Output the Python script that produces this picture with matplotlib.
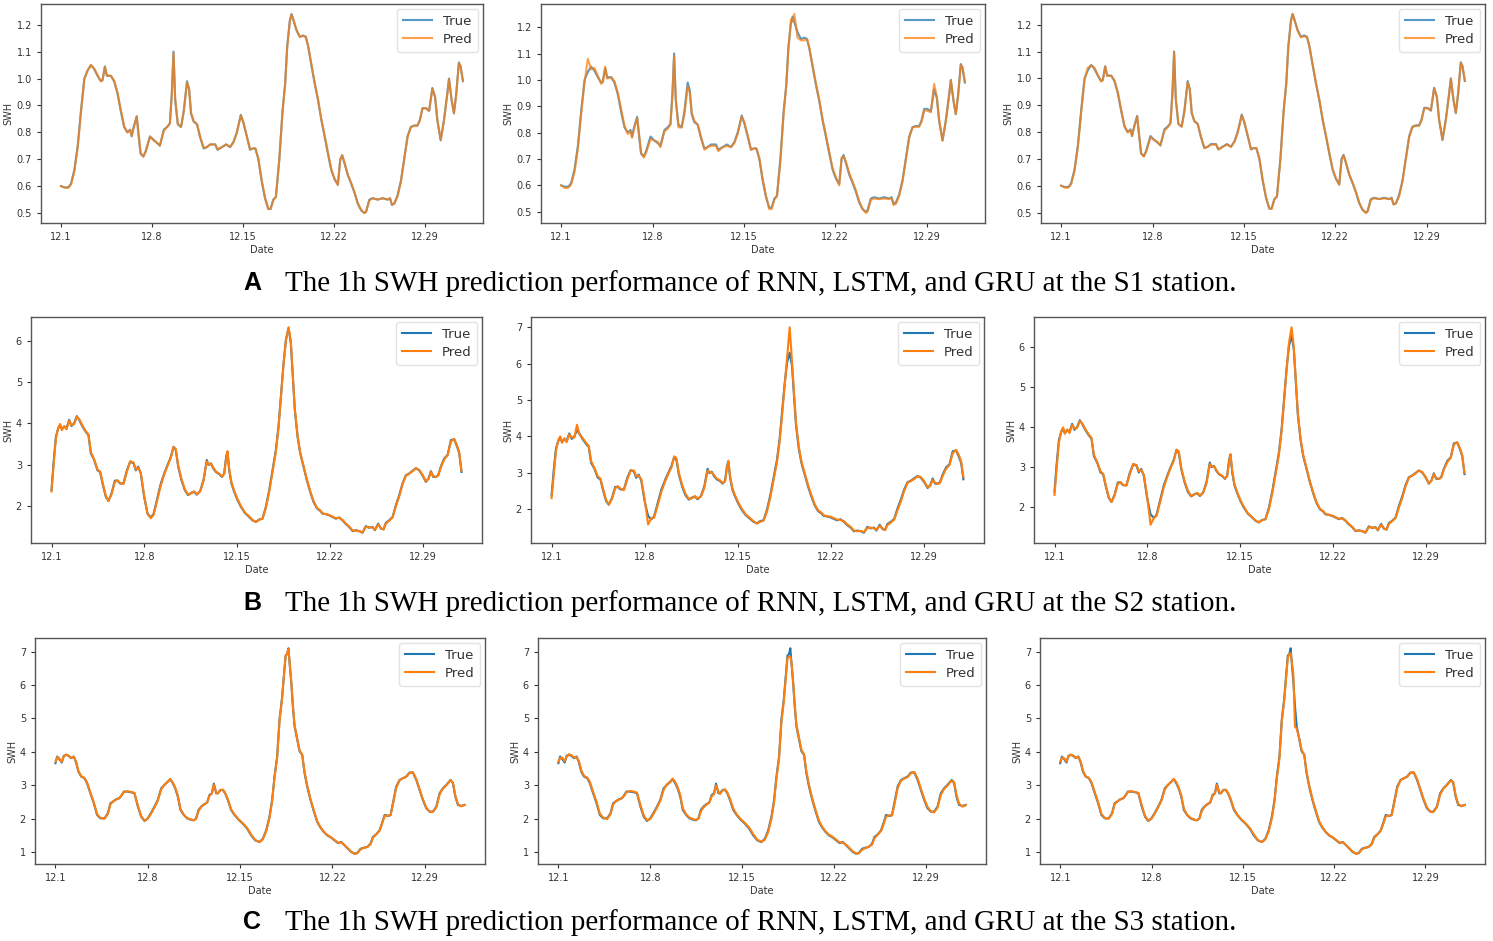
import matplotlib
matplotlib.use("Agg")
import matplotlib.pyplot as plt

# ---------------- data (x in days since 12.1, hourly series) ----------------
tick_pos = [0, 7, 14, 21, 28]
tick_labels = ["12.1", "12.8", "12.15", "12.22", "12.29"]
models = ["RNN", "LSTM", "GRU"]
stations = ["S1", "S2", "S3"]
panel_letters = ["A", "B", "C"]

s1_days = [0.00, 0.26, 0.51, 0.64, 0.77, 1.02, 1.28, 1.53, 1.79, 2.04, 2.30, 2.55, 2.81, 3.06, 3.19, 3.37, 3.52,
           3.83, 4.08, 4.34, 4.59, 4.85, 5.10, 5.31, 5.43, 5.56, 5.82, 5.94, 6.12, 6.33, 6.51, 6.84, 7.14, 7.40,
           7.60, 7.91, 8.16, 8.37, 8.52, 8.65, 8.78, 8.98, 9.23, 9.44, 9.69, 9.85, 10.00, 10.20, 10.46, 10.71,
           10.97, 11.22, 11.48, 11.86, 12.04, 12.37, 12.70, 13.01, 13.27, 13.52, 13.83, 14.03, 14.29, 14.54,
           14.74, 14.95, 15.18, 15.43, 15.69, 15.94, 16.12, 16.33, 16.53, 16.79, 17.04, 17.24, 17.40, 17.60,
           17.73, 17.86, 18.11, 18.37, 18.62, 18.83, 19.01, 19.26, 19.52, 19.77, 20.03, 20.28, 20.54, 20.79,
           21.05, 21.30, 21.48, 21.63, 21.81, 22.07, 22.32, 22.58, 22.83, 23.09, 23.34, 23.47, 23.72, 23.98,
           24.36, 24.74, 25.13, 25.31, 25.46, 25.64, 25.89, 26.15, 26.40, 26.66, 26.91, 27.17, 27.42, 27.60,
           27.81, 28.06, 28.32, 28.57, 28.78, 28.95, 29.21, 29.46, 29.72, 29.85, 30.05, 30.23, 30.41, 30.61,
           30.74, 30.92]
s1_true = [0.600, 0.595, 0.595, 0.600, 0.610, 0.660, 0.750, 0.880, 1.000, 1.030, 1.050, 1.035, 1.010, 0.990, 0.995,
           1.045, 1.010, 1.010, 0.990, 0.945, 0.880, 0.820, 0.800, 0.810, 0.785, 0.815, 0.860, 0.800, 0.720, 0.710,
           0.730, 0.785, 0.770, 0.760, 0.750, 0.810, 0.820, 0.833, 0.945, 1.100, 0.920, 0.830, 0.820, 0.880, 0.990,
           0.960, 0.870, 0.840, 0.830, 0.780, 0.740, 0.745, 0.755, 0.755, 0.735, 0.745, 0.755, 0.745, 0.765, 0.800,
           0.865, 0.835, 0.785, 0.735, 0.740, 0.740, 0.700, 0.620, 0.555, 0.515, 0.515, 0.550, 0.560, 0.700, 0.880,
           0.980, 1.120, 1.215, 1.240, 1.220, 1.180, 1.155, 1.160, 1.155, 1.120, 1.050, 0.980, 0.920, 0.845, 0.785,
           0.720, 0.660, 0.625, 0.605, 0.700, 0.715, 0.685, 0.640, 0.610, 0.575, 0.535, 0.510, 0.500, 0.505, 0.550,
           0.555, 0.550, 0.555, 0.550, 0.555, 0.530, 0.535, 0.565, 0.620, 0.700, 0.785, 0.820, 0.825, 0.825, 0.845,
           0.890, 0.890, 0.880, 0.965, 0.930, 0.845, 0.770, 0.845, 0.945, 1.000, 0.920, 0.870, 0.945, 1.060, 1.045,
           0.990]
s1_rnn_pred = [0.600, 0.595, 0.593, 0.598, 0.608, 0.655, 0.745, 0.875, 0.998, 1.030, 1.050, 1.037, 1.012, 0.990,
               0.993, 1.043, 1.012, 1.010, 0.992, 0.948, 0.885, 0.823, 0.800, 0.808, 0.787, 0.812, 0.858, 0.803,
               0.723, 0.710, 0.728, 0.783, 0.772, 0.760, 0.752, 0.806, 0.820, 0.832, 0.940, 1.095, 0.925, 0.832,
               0.820, 0.876, 0.985, 0.962, 0.873, 0.842, 0.830, 0.782, 0.742, 0.745, 0.755, 0.755, 0.737, 0.745,
               0.755, 0.746, 0.763, 0.797, 0.862, 0.838, 0.787, 0.737, 0.740, 0.740, 0.703, 0.624, 0.558, 0.517,
               0.515, 0.548, 0.560, 0.695, 0.875, 0.978, 1.115, 1.212, 1.238, 1.222, 1.182, 1.155, 1.158, 1.155,
               1.122, 1.053, 0.983, 0.923, 0.848, 0.788, 0.723, 0.663, 0.627, 0.605, 0.697, 0.715, 0.687, 0.642,
               0.612, 0.577, 0.537, 0.512, 0.500, 0.505, 0.547, 0.555, 0.550, 0.555, 0.550, 0.555, 0.532, 0.535,
               0.562, 0.617, 0.697, 0.782, 0.818, 0.825, 0.825, 0.843, 0.888, 0.890, 0.880, 0.962, 0.932, 0.848,
               0.772, 0.842, 0.942, 0.998, 0.922, 0.872, 0.942, 1.057, 1.047, 0.992]
s1_lstm_pred = [0.600, 0.590, 0.590, 0.595, 0.605, 0.650, 0.740, 0.870, 0.990, 1.080, 1.040, 1.045, 1.015, 0.985,
                0.990, 1.050, 1.005, 1.010, 0.995, 0.950, 0.890, 0.825, 0.795, 0.805, 0.780, 0.810, 0.855, 0.805,
                0.725, 0.705, 0.725, 0.775, 0.770, 0.765, 0.745, 0.805, 0.815, 0.830, 0.940, 1.090, 0.930, 0.820,
                0.820, 0.870, 0.975, 0.950, 0.875, 0.845, 0.830, 0.785, 0.735, 0.745, 0.750, 0.750, 0.730, 0.745,
                0.750, 0.745, 0.760, 0.795, 0.860, 0.840, 0.790, 0.735, 0.740, 0.740, 0.705, 0.625, 0.560, 0.510,
                0.510, 0.545, 0.560, 0.690, 0.870, 0.975, 1.110, 1.230, 1.220, 1.250, 1.160, 1.150, 1.150, 1.155,
                1.120, 1.055, 0.985, 0.925, 0.850, 0.790, 0.725, 0.665, 0.630, 0.600, 0.705, 0.710, 0.690, 0.645,
                0.615, 0.580, 0.540, 0.510, 0.495, 0.500, 0.545, 0.550, 0.548, 0.550, 0.548, 0.552, 0.525, 0.530,
                0.560, 0.615, 0.695, 0.780, 0.820, 0.822, 0.822, 0.840, 0.885, 0.882, 0.878, 0.985, 0.935, 0.850,
                0.770, 0.840, 0.940, 0.998, 0.925, 0.870, 0.940, 1.055, 1.050, 0.995]
s1_gru_pred = [0.600, 0.593, 0.592, 0.597, 0.607, 0.655, 0.745, 0.872, 0.995, 1.040, 1.048, 1.040, 1.012, 0.988,
               0.992, 1.045, 1.010, 1.010, 0.993, 0.948, 0.884, 0.823, 0.798, 0.807, 0.785, 0.812, 0.858, 0.803,
               0.723, 0.708, 0.727, 0.780, 0.770, 0.762, 0.750, 0.805, 0.818, 0.832, 0.940, 1.098, 0.925, 0.830,
               0.820, 0.875, 0.985, 0.960, 0.873, 0.842, 0.830, 0.782, 0.740, 0.745, 0.753, 0.753, 0.735, 0.745,
               0.753, 0.745, 0.763, 0.797, 0.862, 0.838, 0.787, 0.737, 0.740, 0.740, 0.703, 0.624, 0.558, 0.515,
               0.513, 0.548, 0.560, 0.695, 0.875, 0.978, 1.115, 1.212, 1.240, 1.220, 1.178, 1.153, 1.157, 1.153,
               1.122, 1.053, 0.983, 0.923, 0.848, 0.788, 0.723, 0.663, 0.627, 0.603, 0.697, 0.713, 0.687, 0.642,
               0.612, 0.577, 0.537, 0.510, 0.498, 0.503, 0.547, 0.553, 0.550, 0.553, 0.550, 0.553, 0.530, 0.533,
               0.562, 0.617, 0.697, 0.782, 0.818, 0.823, 0.823, 0.843, 0.888, 0.888, 0.880, 0.962, 0.932, 0.848,
               0.772, 0.842, 0.942, 0.998, 0.922, 0.872, 0.942, 1.057, 1.047, 0.992]

s2_days = [0.00, 0.15, 0.33, 0.50, 0.65, 0.78, 0.96, 1.13, 1.33, 1.51, 1.71, 1.91, 2.09, 2.34, 2.59, 2.79, 2.97,
           3.22, 3.47, 3.67, 3.85, 4.10, 4.30, 4.53, 4.78, 4.98, 5.18, 5.43, 5.69, 5.94, 6.19, 6.36, 6.54, 6.74,
           6.99, 7.25, 7.50, 7.70, 7.95, 8.25, 8.55, 8.81, 9.01, 9.21, 9.38, 9.56, 9.81, 10.06, 10.31, 10.57,
           10.77, 10.97, 11.22, 11.47, 11.72, 11.85, 12.03, 12.20, 12.40, 12.65, 12.86, 13.03, 13.18, 13.28,
           13.41, 13.58, 13.79, 14.04, 14.29, 14.59, 14.92, 15.17, 15.42, 15.67, 15.92, 16.18, 16.43, 16.68,
           16.93, 17.13, 17.31, 17.51, 17.69, 17.89, 18.06, 18.21, 18.36, 18.57, 18.77, 19.02, 19.27, 19.52,
           19.77, 20.03, 20.28, 20.45, 20.70, 20.96, 21.21, 21.46, 21.71, 21.96, 22.21, 22.47, 22.72, 22.97,
           23.22, 23.47, 23.72, 23.97, 24.23, 24.40, 24.65, 24.86, 25.06, 25.23, 25.48, 25.74, 25.99, 26.24,
           26.49, 26.74, 26.99, 27.25, 27.50, 27.75, 28.00, 28.25, 28.45, 28.63, 28.81, 29.01, 29.18, 29.38,
           29.64, 29.89, 30.14, 30.39, 30.59, 30.77, 30.94]
s2_true = [2.38, 3.03, 3.67, 3.87, 3.96, 3.85, 3.92, 3.87, 4.08, 3.93, 4.00, 4.17, 4.08, 3.92, 3.79, 3.71, 3.27,
           3.11, 2.86, 2.82, 2.54, 2.22, 2.12, 2.30, 2.61, 2.61, 2.54, 2.54, 2.86, 3.07, 3.03, 2.86, 2.95, 2.78,
           2.22, 1.81, 1.72, 1.80, 2.14, 2.54, 2.82, 3.03, 3.19, 3.43, 3.35, 2.95, 2.62, 2.38, 2.26, 2.32, 2.34,
           2.27, 2.36, 2.62, 3.11, 2.99, 3.03, 2.91, 2.82, 2.77, 2.70, 2.78, 3.19, 3.31, 2.86, 2.54, 2.34, 2.14,
           1.98, 1.83, 1.73, 1.65, 1.61, 1.67, 1.69, 1.98, 2.38, 2.86, 3.35, 3.92, 4.64, 5.45, 6.02, 6.30, 5.94,
           5.13, 4.32, 3.67, 3.27, 2.95, 2.62, 2.34, 2.10, 1.94, 1.88, 1.81, 1.80, 1.77, 1.73, 1.69, 1.72, 1.65,
           1.56, 1.49, 1.39, 1.41, 1.39, 1.35, 1.51, 1.47, 1.49, 1.41, 1.57, 1.45, 1.43, 1.59, 1.65, 1.73, 2.02,
           2.26, 2.54, 2.74, 2.78, 2.85, 2.91, 2.86, 2.74, 2.58, 2.66, 2.84, 2.70, 2.70, 2.74, 2.95, 3.15, 3.23,
           3.59, 3.61, 3.45, 3.27, 2.82]
s2_rnn_pred = [2.35, 2.95, 3.62, 3.88, 3.98, 3.83, 3.93, 3.85, 4.06, 3.95, 3.98, 4.15, 4.10, 3.94, 3.80, 3.73,
               3.30, 3.12, 2.88, 2.83, 2.57, 2.24, 2.12, 2.28, 2.58, 2.62, 2.55, 2.53, 2.83, 3.08, 3.05, 2.88, 2.93,
               2.80, 2.25, 1.80, 1.70, 1.78, 2.10, 2.50, 2.80, 3.01, 3.17, 3.42, 3.38, 2.98, 2.65, 2.40, 2.27, 2.31,
               2.35, 2.28, 2.35, 2.60, 3.08, 3.01, 3.02, 2.93, 2.83, 2.78, 2.71, 2.77, 3.15, 3.32, 2.90, 2.57, 2.36,
               2.16, 2.00, 1.84, 1.74, 1.66, 1.61, 1.66, 1.69, 1.95, 2.34, 2.82, 3.30, 3.88, 4.60, 5.42, 6.00, 6.32,
               5.98, 5.18, 4.36, 3.70, 3.29, 2.97, 2.64, 2.36, 2.12, 1.95, 1.89, 1.82, 1.80, 1.78, 1.74, 1.70, 1.71,
               1.66, 1.57, 1.50, 1.40, 1.40, 1.39, 1.36, 1.49, 1.48, 1.48, 1.42, 1.55, 1.46, 1.43, 1.57, 1.64, 1.72,
               1.99, 2.23, 2.52, 2.73, 2.78, 2.84, 2.91, 2.87, 2.75, 2.59, 2.65, 2.82, 2.72, 2.70, 2.73, 2.93, 3.13,
               3.22, 3.56, 3.62, 3.47, 3.29, 2.85]
s2_lstm_pred = [2.30, 2.90, 3.60, 3.90, 4.00, 3.82, 3.95, 3.84, 4.05, 3.97, 3.97, 4.32, 4.05, 3.95, 3.82, 3.74,
                3.32, 3.13, 2.90, 2.84, 2.58, 2.25, 2.13, 2.27, 2.57, 2.63, 2.56, 2.52, 2.82, 3.06, 3.06, 2.90, 2.92,
                2.82, 2.28, 1.58, 1.75, 1.76, 2.08, 2.48, 2.78, 3.00, 3.15, 3.45, 3.40, 3.00, 2.66, 2.42, 2.28, 2.30,
                2.36, 2.29, 2.34, 2.58, 3.06, 3.02, 3.01, 2.94, 2.84, 2.79, 2.72, 2.76, 3.13, 3.33, 2.92, 2.58, 2.37,
                2.17, 2.01, 1.85, 1.75, 1.67, 1.60, 1.65, 1.68, 1.93, 2.32, 2.80, 3.28, 3.85, 4.55, 5.40, 6.20, 7.00,
                6.05, 5.20, 4.40, 3.72, 3.31, 2.98, 2.66, 2.38, 2.13, 1.96, 1.90, 1.83, 1.80, 1.79, 1.75, 1.71, 1.70,
                1.67, 1.58, 1.51, 1.41, 1.39, 1.40, 1.37, 1.48, 1.49, 1.47, 1.43, 1.54, 1.47, 1.42, 1.56, 1.63, 1.71,
                1.97, 2.21, 2.50, 2.72, 2.77, 2.83, 2.90, 2.88, 2.76, 2.60, 2.64, 2.80, 2.73, 2.69, 2.72, 2.91, 3.11,
                3.21, 3.54, 3.63, 3.49, 3.31, 2.88]
s2_gru_pred = [2.30, 2.92, 3.60, 3.89, 3.99, 3.83, 3.94, 3.85, 4.05, 3.96, 3.98, 4.15, 4.09, 3.94, 3.81, 3.73,
               3.31, 3.12, 2.89, 2.83, 2.57, 2.24, 2.12, 2.28, 2.58, 2.62, 2.55, 2.53, 2.83, 3.07, 3.05, 2.89, 2.93,
               2.81, 2.26, 1.55, 1.72, 1.77, 2.09, 2.49, 2.79, 3.01, 3.16, 3.43, 3.39, 2.99, 2.65, 2.41, 2.27, 2.31,
               2.35, 2.28, 2.35, 2.59, 3.07, 3.01, 3.02, 2.93, 2.83, 2.78, 2.71, 2.77, 3.14, 3.32, 2.91, 2.57, 2.36,
               2.16, 2.00, 1.84, 1.74, 1.66, 1.61, 1.66, 1.69, 1.94, 2.33, 2.81, 3.29, 3.87, 4.58, 5.42, 6.10, 6.50,
               6.00, 5.18, 4.37, 3.70, 3.30, 2.97, 2.64, 2.36, 2.12, 1.95, 1.89, 1.82, 1.80, 1.78, 1.74, 1.70, 1.71,
               1.66, 1.57, 1.50, 1.40, 1.40, 1.39, 1.36, 1.49, 1.48, 1.48, 1.42, 1.55, 1.46, 1.43, 1.57, 1.64, 1.72,
               1.98, 2.22, 2.51, 2.73, 2.78, 2.84, 2.91, 2.87, 2.75, 2.59, 2.65, 2.82, 2.72, 2.70, 2.73, 2.93, 3.12,
               3.22, 3.56, 3.62, 3.47, 3.29, 2.85]

s3_days = [0.00, 0.13, 0.30, 0.48, 0.63, 0.81, 0.99, 1.19, 1.39, 1.57, 1.74, 1.95, 2.20, 2.40, 2.65, 2.91, 3.16,
           3.41, 3.72, 3.97, 4.17, 4.37, 4.60, 4.85, 5.03, 5.18, 5.44, 5.74, 5.99, 6.25, 6.50, 6.75, 7.00, 7.26,
           7.51, 7.76, 8.02, 8.27, 8.52, 8.70, 8.90, 9.08, 9.28, 9.48, 9.73, 9.99, 10.24, 10.49, 10.67, 10.85,
           11.05, 11.30, 11.50, 11.68, 11.86, 12.01, 12.19, 12.31, 12.51, 12.69, 12.87, 13.07, 13.32, 13.58,
           13.88, 14.21, 14.54, 14.84, 15.15, 15.47, 15.73, 15.98, 16.23, 16.43, 16.61, 16.81, 16.99, 17.17,
           17.32, 17.45, 17.57, 17.67, 17.75, 17.88, 18.00, 18.13, 18.33, 18.51, 18.71, 18.89, 19.09, 19.34,
           19.60, 19.85, 20.10, 20.35, 20.61, 20.91, 21.16, 21.42, 21.67, 21.92, 22.17, 22.43, 22.68, 22.88,
           23.14, 23.39, 23.64, 23.89, 24.07, 24.32, 24.58, 24.75, 24.96, 25.21, 25.41, 25.59, 25.84, 26.10,
           26.35, 26.60, 26.85, 27.11, 27.36, 27.61, 27.86, 28.12, 28.37, 28.62, 28.88, 29.13, 29.38, 29.64,
           29.96, 30.14, 30.32, 30.52, 30.77, 31.02]
s3_true = [3.66, 3.86, 3.78, 3.68, 3.88, 3.91, 3.88, 3.81, 3.86, 3.68, 3.41, 3.26, 3.21, 3.06, 2.76, 2.46, 2.11,
           2.01, 2.01, 2.16, 2.46, 2.51, 2.58, 2.61, 2.71, 2.81, 2.81, 2.79, 2.76, 2.36, 2.06, 1.93, 2.01, 2.18,
           2.36, 2.56, 2.91, 3.01, 3.11, 3.18, 3.06, 2.91, 2.66, 2.26, 2.11, 2.01, 1.97, 1.95, 2.01, 2.26, 2.36,
           2.44, 2.48, 2.71, 2.76, 3.05, 2.76, 2.76, 2.86, 2.86, 2.76, 2.56, 2.26, 2.11, 1.97, 1.85, 1.70, 1.50,
           1.35, 1.30, 1.40, 1.65, 2.06, 2.56, 3.26, 3.86, 4.97, 5.57, 6.28, 6.88, 6.93, 7.10, 6.68, 6.08, 5.37,
           4.77, 4.37, 4.02, 3.91, 3.36, 2.96, 2.56, 2.21, 1.90, 1.73, 1.60, 1.50, 1.43, 1.35, 1.27, 1.30, 1.20,
           1.10, 1.00, 0.95, 0.97, 1.10, 1.13, 1.15, 1.25, 1.45, 1.53, 1.65, 1.85, 2.11, 2.08, 2.11, 2.46, 2.96,
           3.16, 3.21, 3.26, 3.38, 3.38, 3.16, 2.86, 2.56, 2.31, 2.21, 2.21, 2.36, 2.76, 2.91, 3.01, 3.16, 3.06,
           2.66, 2.41, 2.38, 2.41]
s3_rnn_pred = [3.70, 3.84, 3.80, 3.70, 3.86, 3.92, 3.89, 3.82, 3.85, 3.70, 3.43, 3.27, 3.22, 3.08, 2.78, 2.48, 2.13,
               2.02, 2.00, 2.14, 2.43, 2.52, 2.57, 2.62, 2.70, 2.80, 2.82, 2.80, 2.77, 2.39, 2.08, 1.94, 2.00, 2.16,
               2.34, 2.54, 2.88, 3.02, 3.10, 3.19, 3.08, 2.93, 2.69, 2.29, 2.12, 2.02, 1.98, 1.95, 2.00, 2.23, 2.35,
               2.43, 2.48, 2.69, 2.75, 3.02, 2.79, 2.75, 2.85, 2.87, 2.77, 2.58, 2.28, 2.12, 1.98, 1.86, 1.72, 1.52,
               1.36, 1.30, 1.38, 1.62, 2.02, 2.52, 3.22, 3.82, 4.92, 5.55, 6.25, 6.85, 6.95, 7.08, 6.72, 6.12, 5.42,
               4.80, 4.40, 4.04, 3.92, 3.40, 2.99, 2.58, 2.23, 1.92, 1.74, 1.61, 1.51, 1.44, 1.36, 1.28, 1.29, 1.21,
               1.11, 1.01, 0.95, 0.96, 1.08, 1.13, 1.15, 1.23, 1.43, 1.53, 1.64, 1.83, 2.08, 2.09, 2.10, 2.43, 2.93,
               3.15, 3.21, 3.25, 3.37, 3.39, 3.18, 2.88, 2.58, 2.33, 2.21, 2.20, 2.34, 2.73, 2.90, 3.00, 3.15, 3.08,
               2.69, 2.43, 2.37, 2.41]
s3_lstm_pred = [3.70, 3.82, 3.82, 3.72, 3.85, 3.93, 3.90, 3.83, 3.84, 3.72, 3.45, 3.28, 3.23, 3.10, 2.80, 2.50, 2.15,
                2.03, 1.99, 2.13, 2.42, 2.53, 2.56, 2.63, 2.69, 2.79, 2.83, 2.81, 2.78, 2.41, 2.10, 1.95, 1.99, 2.15,
                2.33, 2.53, 2.86, 3.03, 3.09, 3.20, 3.10, 2.95, 2.71, 2.31, 2.13, 2.03, 1.99, 1.96, 1.99, 2.21, 2.34,
                2.42, 2.49, 2.67, 2.74, 3.00, 2.81, 2.74, 2.84, 2.88, 2.78, 2.60, 2.30, 2.13, 1.99, 1.87, 1.73, 1.54,
                1.37, 1.31, 1.37, 1.60, 2.00, 2.50, 3.20, 3.80, 4.90, 5.50, 6.20, 6.80, 6.85, 6.85, 6.70, 6.10, 5.45,
                4.82, 4.42, 4.06, 3.93, 3.42, 3.01, 2.60, 2.25, 1.94, 1.75, 1.62, 1.52, 1.45, 1.37, 1.29, 1.28, 1.22,
                1.12, 1.02, 0.96, 0.96, 1.07, 1.12, 1.16, 1.22, 1.41, 1.52, 1.63, 1.81, 2.06, 2.10, 2.09, 2.41, 2.91,
                3.14, 3.20, 3.24, 3.36, 3.40, 3.20, 2.90, 2.60, 2.35, 2.22, 2.19, 2.33, 2.71, 2.89, 2.99, 3.14, 3.10,
                2.72, 2.45, 2.36, 2.40]
s3_gru_pred = [3.70, 3.83, 3.81, 3.71, 3.86, 3.92, 3.89, 3.82, 3.85, 3.71, 3.44, 3.27, 3.22, 3.09, 2.79, 2.49, 2.14,
               2.02, 2.00, 2.14, 2.43, 2.52, 2.57, 2.62, 2.70, 2.80, 2.82, 2.80, 2.77, 2.40, 2.09, 1.94, 2.00, 2.16,
               2.34, 2.54, 2.87, 3.02, 3.10, 3.19, 3.09, 2.94, 2.70, 2.30, 2.12, 2.02, 1.98, 1.95, 2.00, 2.22, 2.35,
               2.43, 2.48, 2.68, 2.75, 3.01, 2.80, 2.75, 2.85, 2.87, 2.77, 2.59, 2.29, 2.12, 1.98, 1.86, 1.72, 1.53,
               1.36, 1.30, 1.38, 1.61, 2.01, 2.51, 3.21, 3.81, 4.91, 5.52, 6.22, 6.82, 6.92, 6.95, 6.72, 6.30, 4.75,
               4.70, 4.40, 4.05, 3.92, 3.41, 3.00, 2.59, 2.24, 1.93, 1.74, 1.61, 1.51, 1.44, 1.36, 1.28, 1.29, 1.21,
               1.11, 1.01, 0.95, 0.96, 1.08, 1.13, 1.15, 1.23, 1.42, 1.53, 1.64, 1.82, 2.07, 2.09, 2.10, 2.42, 2.92,
               3.15, 3.21, 3.25, 3.37, 3.39, 3.19, 2.89, 2.59, 2.34, 2.21, 2.20, 2.34, 2.72, 2.90, 3.00, 3.15, 3.09,
               2.70, 2.44, 2.37, 2.41]

days = [s1_days, s2_days, s3_days]
trues = [s1_true, s2_true, s3_true]
preds = [[s1_rnn_pred, s1_lstm_pred, s1_gru_pred],
         [s2_rnn_pred, s2_lstm_pred, s2_gru_pred],
         [s3_rnn_pred, s3_lstm_pred, s3_gru_pred]]

# ---------------- layout ----------------
W, H = 1493, 941
fig = plt.figure(figsize=(W / 100, H / 100), dpi=100)
plt.rcParams['font.family'] = ['DejaVu Sans']

# axes boxes in pixels: (left, top, right, bottom)
boxes = [
    [(41, 4, 483, 223), (541, 4, 985, 223), (1041, 4, 1485, 223)],
    [(31, 317, 482, 543), (531, 317, 984, 543), (1034, 317, 1485, 543)],
    [(35, 638, 485, 864), (538, 638, 986, 864), (1040, 638, 1485, 864)],
]
caption_y = [283, 603, 922]
row_alpha = [0.75, 1.0, 1.0]

TRUE_C = '#1f77b4'
PRED_C = '#ff7f0e'
TXT_C = '#333333'

for r in range(3):
    for c in range(3):
        l, t, rr, b = boxes[r][c]
        ax = fig.add_axes([l / W, 1 - b / H, (rr - l) / W, (b - t) / H])
        ax.plot(days[r], trues[r], color=TRUE_C, lw=1.5, alpha=row_alpha[r], label='True')
        ax.plot(days[r], preds[r][c], color=PRED_C, lw=1.5, alpha=row_alpha[r], label='Pred')
        ax.set_xticks(tick_pos)
        ax.set_xticklabels(tick_labels)
        ax.tick_params(labelsize=7, colors=TXT_C, length=3, width=0.8)
        ax.set_xlabel('Date', fontsize=7, color=TXT_C, labelpad=2)
        ax.set_ylabel('SWH', fontsize=7, color=TXT_C, labelpad=2)
        for sp in ax.spines.values():
            sp.set_color('#555555')
            sp.set_linewidth(1.0)
        leg = ax.legend(loc='upper right', fontsize=9.5, frameon=True, handlelength=2.2,
                        borderpad=0.45, labelspacing=0.4, borderaxespad=0.35)
        leg.get_frame().set_edgecolor('#dddddd')
        for txt in leg.get_texts():
            txt.set_color(TXT_C)

    fig.text(243 / W, 1 - caption_y[r] / H, panel_letters[r], fontsize=18, fontweight='bold',
             family='Liberation Sans', ha='left', va='center', color='black')
    fig.text(285 / W, 1 - (caption_y[r] + 1) / H,
             f"The 1h SWH prediction performance of {models[0]}, {models[1]}, and {models[2]} at the {stations[r]} station.",
             fontsize=21, family='Liberation Serif', ha='left', va='center', color='black')

fig.savefig('out.png', dpi=100)
